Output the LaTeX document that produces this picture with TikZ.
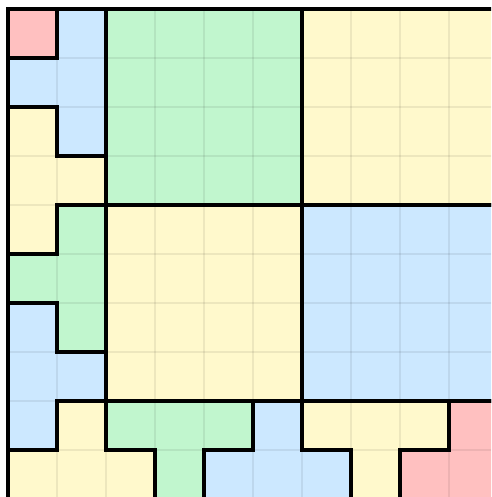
\documentclass[tikz,border=0pt]{standalone}
\definecolor{cred}{RGB}{255,192,192}
\definecolor{cblue}{RGB}{204,232,255}
\definecolor{cgreen}{RGB}{193,246,206}
\definecolor{cyellow}{RGB}{255,249,204}
\tikzset{
  piece/.style={draw=black,line width=4pt,line join=miter},
  gridline/.style={draw=black,draw opacity=0.07,line width=1.5pt}
}
\begin{document}
\begin{tikzpicture}[x=1pt,y=-1pt]
\useasboundingbox (0,0) rectangle (491,497);
\fill[white] (0,0) rectangle (491,497);
\clip (0,0) rectangle (491,497);
\begin{scope}[shift={(8,9)},x=49pt,y=-49pt]
  % fills
  \fill[cred] (0,0) rectangle (1,1);
  \fill[cblue] (1,0)--(2,0)--(2,3)--(1,3)--(1,2)--(0,2)--(0,1)--(1,1)--cycle;
  \fill[cyellow] (0,2)--(1,2)--(1,3)--(2,3)--(2,4)--(1,4)--(1,5)--(0,5)--cycle;
  \fill[cgreen] (1,4)--(2,4)--(2,7)--(1,7)--(1,6)--(0,6)--(0,5)--(1,5)--cycle;
  \fill[cblue] (0,6)--(1,6)--(1,7)--(2,7)--(2,8)--(1,8)--(1,9)--(0,9)--cycle;
  \fill[cyellow] (1,8)--(2,8)--(2,9)--(3,9)--(3,10)--(0,10)--(0,9)--(1,9)--cycle;
  \fill[cgreen] (2,8)--(5,8)--(5,9)--(4,9)--(4,10)--(3,10)--(3,9)--(2,9)--cycle;
  \fill[cblue] (5,8)--(6,8)--(6,9)--(7,9)--(7,10)--(4,10)--(4,9)--(5,9)--cycle;
  \fill[cyellow] (6,8)--(9,8)--(9,9)--(8,9)--(8,10)--(7,10)--(7,9)--(6,9)--cycle;
  \fill[cred] (9,8)--(10,8)--(10,10)--(8,10)--(8,9)--(9,9)--cycle;
  \fill[cgreen] (2,0) rectangle (6,4);
  \fill[cyellow] (6,0) rectangle (10,4);
  \fill[cyellow] (2,4) rectangle (6,8);
  \fill[cblue] (6,4) rectangle (10,8);
  % grid
  \foreach \k in {1,...,9} {
    \draw[gridline] (\k,0) -- (\k,10);
    \draw[gridline] (0,\k) -- (10,\k);
  }
  % outlines
  \draw[piece] (0,0) rectangle (1,1);
  \draw[piece] (1,0)--(2,0)--(2,3)--(1,3)--(1,2)--(0,2)--(0,1)--(1,1)--cycle;
  \draw[piece] (0,2)--(1,2)--(1,3)--(2,3)--(2,4)--(1,4)--(1,5)--(0,5)--cycle;
  \draw[piece] (1,4)--(2,4)--(2,7)--(1,7)--(1,6)--(0,6)--(0,5)--(1,5)--cycle;
  \draw[piece] (0,6)--(1,6)--(1,7)--(2,7)--(2,8)--(1,8)--(1,9)--(0,9)--cycle;
  \draw[piece] (1,8)--(2,8)--(2,9)--(3,9)--(3,10)--(0,10)--(0,9)--(1,9)--cycle;
  \draw[piece] (2,8)--(5,8)--(5,9)--(4,9)--(4,10)--(3,10)--(3,9)--(2,9)--cycle;
  \draw[piece] (5,8)--(6,8)--(6,9)--(7,9)--(7,10)--(4,10)--(4,9)--(5,9)--cycle;
  \draw[piece] (6,8)--(9,8)--(9,9)--(8,9)--(8,10)--(7,10)--(7,9)--(6,9)--cycle;
  \draw[piece] (9,8)--(10,8)--(10,10)--(8,10)--(8,9)--(9,9)--cycle;
  \draw[piece] (2,0) rectangle (6,4);
  \draw[piece] (6,0) rectangle (10,4);
  \draw[piece] (2,4) rectangle (6,8);
  \draw[piece] (6,4) rectangle (10,8);
\end{scope}
\end{tikzpicture}
\end{document}
